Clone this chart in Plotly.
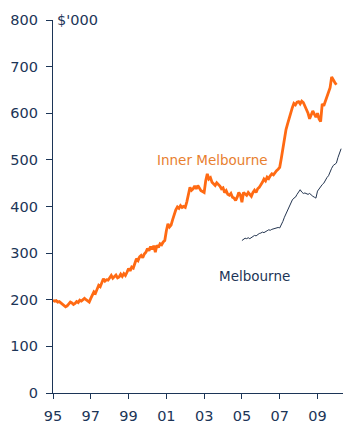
import plotly.graph_objects as go

# Monthly series, $'000
inner_start_year = 1995
inner_melbourne = [
    199, 197, 198, 195, 196, 193, 191, 189, 185, 187, 191, 195,   # 1995
    193, 190, 192, 196, 194, 199, 197, 201, 203, 200, 198, 195,   # 1996
    203, 210, 217, 214, 222, 231, 228, 236, 245, 240, 243, 242,   # 1997
    248, 252, 246, 250, 253, 247, 249, 255, 250, 256, 252, 259,   # 1998
    267, 262, 270, 268, 278, 288, 284, 292, 295, 290, 298, 302,   # 1999
    310, 305, 314, 308, 316, 302, 317, 312, 320, 318, 324, 327,   # 2000
    348, 363, 356, 360, 372, 384, 393, 399, 396, 402, 398, 400,   # 2001
    398, 410, 425, 441, 435, 438, 444, 438, 445, 440, 434, 432,   # 2002
    430, 455, 470, 459, 462, 452, 448, 445, 451, 448, 444, 438,   # 2003
    440, 430, 434, 426, 424, 428, 420, 418, 413, 420, 430, 425,   # 2004
    409, 430, 426, 424, 430, 427, 422, 430, 435, 430, 438, 441,   # 2005
    446, 452, 459, 455, 463, 460, 466, 470, 468, 474, 477, 480,   # 2006
    484, 503, 525, 548, 565, 577, 590, 598, 612, 621, 618, 624,   # 2007
    625, 620, 626, 623, 615, 610, 600, 588, 596, 605, 598, 592,   # 2008
    600, 588, 582, 620, 616, 625, 634, 645, 655, 678, 670, 666,   # 2009
    661,                                                          # 2010
]

melb_start_year = 2005
melbourne = [
    327, 330, 332, 331, 333, 331, 334, 336, 338, 337, 340, 342,   # 2005
    343, 345, 344, 347, 348, 350, 349, 351, 352, 353, 354, 355,   # 2006
    354, 360, 368, 377, 385, 393, 402, 408, 414, 418, 420, 426,   # 2007
    432, 436, 431, 428, 429, 427, 426, 428, 424, 422, 420, 418,   # 2008
    433, 438, 442, 447, 450, 457, 462, 466, 475, 482, 488, 490,   # 2009
    493, 505, 515, 524,                                           # 2010
]

x_tick_years = [1995, 1997, 1999, 2001, 2003, 2005, 2007, 2009]
x_tick_labels = ["95", "97", "99", "01", "03", "05", "07", "09"]
y_ticks = [0, 100, 200, 300, 400, 500, 600, 700, 800]

x_inner = [inner_start_year + i / 12 for i in range(len(inner_melbourne))]
x_melb = [melb_start_year + i / 12 for i in range(len(melbourne))]

NAVY = "#1c3557"
ORANGE = "#ff6a13"
FONT = "DejaVu Sans"

fig = go.Figure()
fig.add_trace(go.Scatter(x=x_inner, y=inner_melbourne, mode="lines",
                         line=dict(color=ORANGE, width=2.8), hoverinfo="skip"))
fig.add_trace(go.Scatter(x=x_melb, y=melbourne, mode="lines",
                         line=dict(color="#243550", width=1), hoverinfo="skip"))

fig.add_annotation(x=2003.42, y=500, text="Inner Melbourne", showarrow=False,
                   font=dict(family=FONT, size=13.5, color="#e8802f"))
fig.add_annotation(x=2005.65, y=251, text="Melbourne", showarrow=False,
                   font=dict(family=FONT, size=13.5, color=NAVY))
fig.add_annotation(x=0, xref="paper", xanchor="left", xshift=2, y=800, yref="y",
                   yanchor="middle", text="$'000", showarrow=False,
                   font=dict(family=FONT, size=14.5, color=NAVY))

# page body has an 8px margin, so the figure is sized/offset to compensate
fig.update_layout(
    width=351, height=424,
    margin=dict(l=45, r=16, t=12, b=39),
    plot_bgcolor="white", paper_bgcolor="white",
    showlegend=False,
    font=dict(family=FONT, size=14, color=NAVY),
    xaxis=dict(range=[1995, 2010.35], tickvals=x_tick_years, ticktext=x_tick_labels,
               showgrid=False, zeroline=False, showline=True, linecolor=NAVY,
               linewidth=1.2, ticks="outside", ticklen=5, tickcolor=NAVY,
               ticklabelstandoff=4, automargin=False,
               tickfont=dict(family=FONT, size=14.5, color=NAVY)),
    yaxis=dict(range=[0, 800], tickvals=y_ticks, showgrid=False, zeroline=False,
               showline=True, linecolor=NAVY, linewidth=1.2, ticks="outside",
               ticklen=6, tickcolor=NAVY, ticklabelstandoff=5, automargin=False,
               tickfont=dict(family=FONT, size=14.5, color=NAVY)),
)

fig.write_html("out.html")
